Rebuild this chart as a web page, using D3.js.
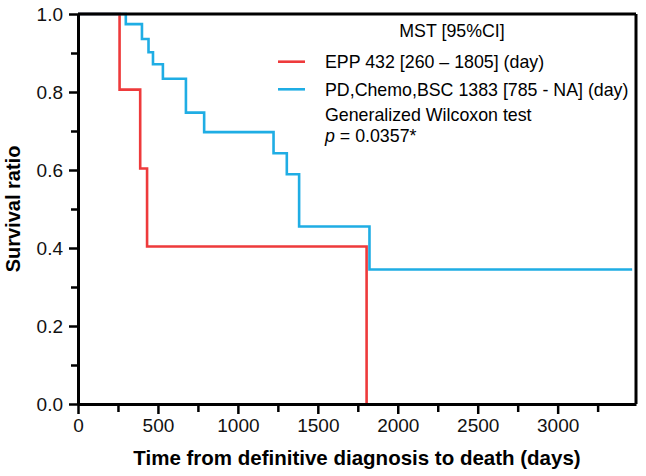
<!DOCTYPE html>
<html>
<head>
<meta charset="utf-8">
<script src="https://cdn.jsdelivr.net/npm/d3@7"></script>
<style>
  body { margin: 0; background: #fff; }
  text { font-family: "Liberation Sans", Arial, sans-serif; }
</style>
</head>
<body>
<div id="chart"></div>
<script>
// Kaplan-Meier steps
let eppTimes = [0, 260, 389, 432, 1805];
let eppSurv = [1.0, 0.806, 0.604, 0.404, 0.0];

let pdTimes = [0, 299, 400, 441, 469, 531, 675, 789, 1223, 1306, 1383, 1823, 3466];
let pdSurv = [1.0, 0.974, 0.936, 0.902, 0.871, 0.834, 0.747, 0.697, 0.643, 0.589, 0.455, 0.345, 0.345];

let xTicks = [0, 500, 1000, 1500, 2000, 2500, 3000];
let xMinor = [250, 750, 1250, 1750, 2250, 2750, 3250];
let yTicks = [0, 0.2, 0.4, 0.6, 0.8, 1.0];
let yMinor = [0.1, 0.3, 0.5, 0.7, 0.9];

let legendLabels = ["EPP 432 [260 \u2013 1805] (day)", "PD,Chemo,BSC 1383 [785 - NA] (day)"];
let colors = ["#ee3a3b", "#1fade4"];

let margin = { top: 14, bottom: 72, left: 78, right: 10 };
let width = 646, height = 476,
    visWidth = width - margin.left - margin.right,
    visHeight = height - margin.top - margin.bottom;

let xScale = d3.scaleLinear().domain([0, 3490]).range([0, visWidth]);
let yScale = d3.scaleLinear().domain([0, 1]).range([visHeight, 0]);

let svg = d3.select("#chart").append("svg")
    .attr("width", width)
    .attr("height", height);

let chart = svg.append("g")
    .attr("transform", "translate(" + margin.left + "," + margin.top + ")");

let line = d3.line()
    .x(function(d) { return xScale(d[0]); })
    .y(function(d) { return yScale(d[1]); })
    .curve(d3.curveStepAfter);

let series = [d3.zip(eppTimes, eppSurv), d3.zip(pdTimes, pdSurv)];

chart.selectAll(".km")
    .data(series)
    .enter().append("path")
    .attr("class", "km")
    .attr("d", line)
    .attr("fill", "none")
    .attr("stroke", function(d, i) { return colors[i]; })
    .attr("stroke-width", 2.6);

// frame on top and right
chart.append("line")
    .attr("x1", 0).attr("x2", visWidth)
    .attr("y1", 0).attr("y2", 0)
    .attr("stroke", "#000").attr("stroke-width", 3);
chart.append("line")
    .attr("x1", visWidth).attr("x2", visWidth)
    .attr("y1", 0).attr("y2", visHeight)
    .attr("stroke", "#000").attr("stroke-width", 3);

function styleAxis(g) {
    g.select(".domain").attr("stroke-width", 3);
    g.selectAll(".tick line").attr("stroke-width", 2.5);
    g.selectAll(".tick text")
        .attr("font-size", 19)
        .attr("fill", "#111");
}

// x axis
chart.append("g")
    .attr("transform", "translate(0," + visHeight + ")")
    .call(d3.axisBottom(xScale).tickValues(xMinor).tickSize(8).tickFormat("").tickSizeOuter(0))
    .call(function(g) { g.select(".domain").remove(); g.selectAll(".tick line").attr("stroke-width", 2.5); });
chart.append("g")
    .attr("transform", "translate(0," + visHeight + ")")
    .call(d3.axisBottom(xScale).tickValues(xTicks).tickSize(10).tickPadding(5).tickFormat(d3.format("d")).tickSizeOuter(0))
    .call(styleAxis);

// y axis
chart.append("g")
    .call(d3.axisLeft(yScale).tickValues(yMinor).tickSize(7).tickFormat("").tickSizeOuter(0))
    .call(function(g) { g.select(".domain").remove(); g.selectAll(".tick line").attr("stroke-width", 2.5); });
chart.append("g")
    .call(d3.axisLeft(yScale).tickValues(yTicks).tickSize(9).tickPadding(6).tickFormat(d3.format(".1f")).tickSizeOuter(0))
    .call(styleAxis);

// axis titles
svg.append("text")
    .attr("x", 357)
    .attr("y", 465)
    .attr("text-anchor", "middle")
    .attr("font-size", 20.5)
    .attr("font-weight", "bold")
    .text("Time from definitive diagnosis to death (days)");

svg.append("text")
    .attr("transform", "translate(20," + (margin.top + visHeight / 2) + ") rotate(-90)")
    .attr("text-anchor", "middle")
    .attr("font-size", 20)
    .attr("font-weight", "bold")
    .text("Survival ratio");

// legend
let legend = svg.append("g");
legend.append("text")
    .attr("x", 452).attr("y", 36.5)
    .attr("text-anchor", "middle")
    .attr("font-size", 17.8)
    .text("MST [95%CI]");

legendLabels.forEach(function(label, i) {
    let ly = 61.7 + i * 27.6;
    legend.append("line")
        .attr("x1", 278).attr("x2", 305)
        .attr("y1", ly).attr("y2", ly)
        .attr("stroke", colors[i]).attr("stroke-width", 2.6);
    legend.append("text")
        .attr("x", 325).attr("y", ly + 6.3)
        .attr("font-size", 17.8)
        .text(label);
});

legend.append("text")
    .attr("x", 325).attr("y", 121.3)
    .attr("font-size", 17.8)
    .text("Generalized Wilcoxon test");

let pText = legend.append("text")
    .attr("x", 325).attr("y", 141.7)
    .attr("font-size", 17.8);
pText.append("tspan").attr("font-style", "italic").text("p");
pText.append("tspan").text(" = 0.0357*");
</script>
</body>
</html>
